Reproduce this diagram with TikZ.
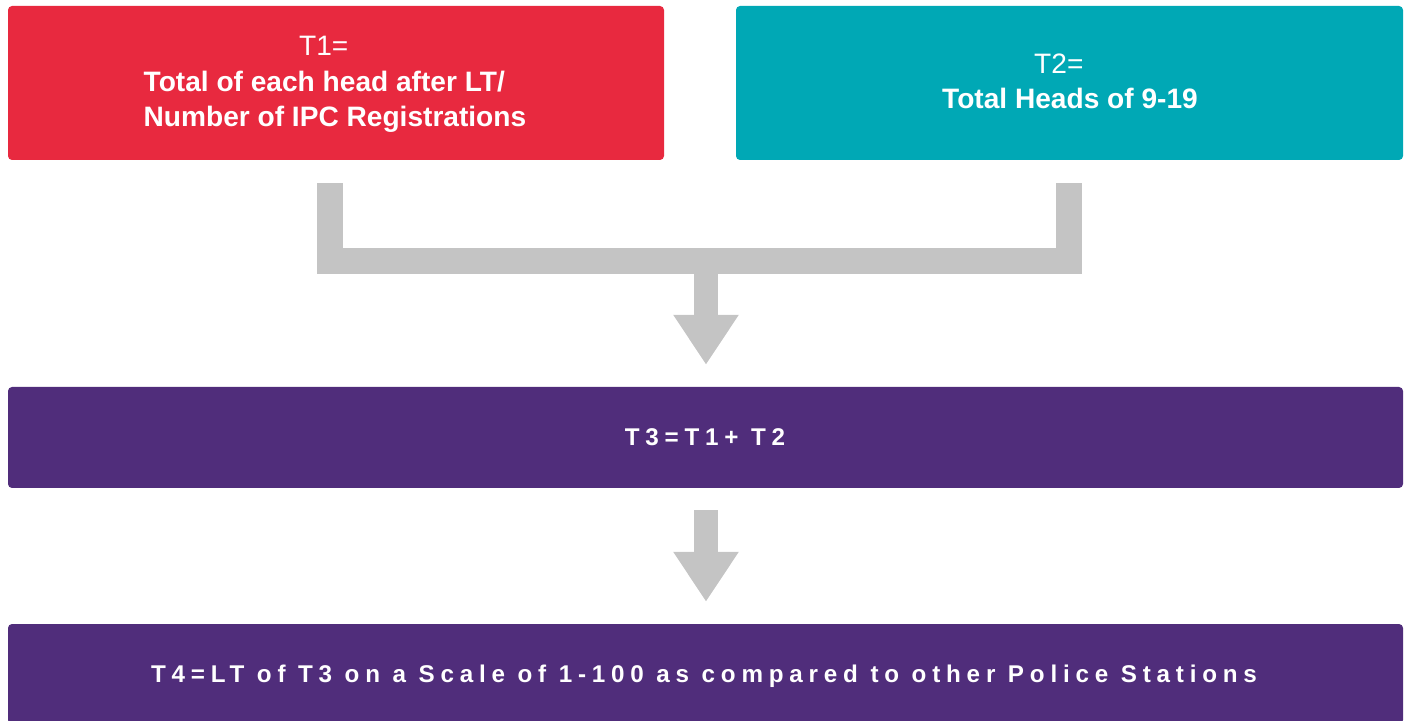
\documentclass[tikz,border=0pt]{standalone}
\usepackage{fontspec}
\setmainfont{Liberation Sans}
\usetikzlibrary{arrows.meta,calc}
\definecolor{cred}{HTML}{E8293F}
\definecolor{cteal}{HTML}{00A8B5}
\definecolor{cpurple}{HTML}{502D7B}
\definecolor{cgray}{HTML}{C4C4C4}
\begin{document}
\begin{tikzpicture}[x=1pt,y=1pt,
  box/.style={rounded corners=4pt, inner sep=0pt},
  txt/.style={inner sep=0pt, text=white},
  topfont/.style={font=\fontsize{28.1}{35.5}\selectfont},
  topbold/.style={font=\fontsize{28.1}{35.5}\selectfont\bfseries},
  spfont/.style={font=\fontsize{24.2}{28}\selectfont\bfseries\addfontfeature{LetterSpace=24}},
  bracket/.style={draw=cgray, line width=26pt, line join=miter, line cap=butt},
  arr/.style={draw=cgray, line width=24pt, -{Triangle[length=50pt,width=62pt]}}]
\useasboundingbox (0,0) rectangle (1407,720);
\clip (0,0) rectangle (1407,720);
\node[box, fill=cred, minimum width=656pt, minimum height=154pt] (t1) at (336,637) {};
\node[box, fill=cteal, minimum width=667pt, minimum height=154pt] (t2) at (1069.5,637) {};
\node[box, fill=cpurple, minimum width=1395pt, minimum height=101pt] (t3) at (705.5,282.5) {};
\node[box, fill=cpurple, minimum width=1395pt, minimum height=100pt] (t4) at (705.5,46) {};
% texts
\node[txt, topfont, anchor=base west] (t1a) at (299,664) {T1=};
\node[txt, topbold, anchor=base west] (t1b) at (143.5,628) {Total of each head after LT/};
\node[txt, topbold, anchor=base west] (t1c) at (143.5,593) {Number of IPC Registrations};
\node[txt, topfont, anchor=base west] (t2a) at (1034,646) {T2=};
\node[txt, topbold, anchor=base west] (t2b) at (942,611) {Total Heads of 9-19};
\node[txt, spfont, anchor=base] (t3t) at (705,274.3) {T3=T1+ T2};
\node[txt, spfont, anchor=base] (t4t) at (704,38) {T4=LT of T3 on a Scale of 1-100 as compared to other Police Stations};
% connectors
\draw[bracket] ([xshift=-6pt,yshift=-23pt]t1.south) |- ([xshift=-1pt,yshift=-101pt]t2.south) -- ([xshift=-1pt,yshift=-23pt]t2.south);
\coordinate (j) at ([xshift=0.5pt,yshift=113pt]t3.north);
\draw[arr] (j) -- ([xshift=0.5pt,yshift=22pt]t3.north);
\draw[arr] ([xshift=0.5pt,yshift=-22pt]t3.south) -- ([xshift=0.5pt,yshift=22pt]t4.north);
\end{tikzpicture}
\end{document}
